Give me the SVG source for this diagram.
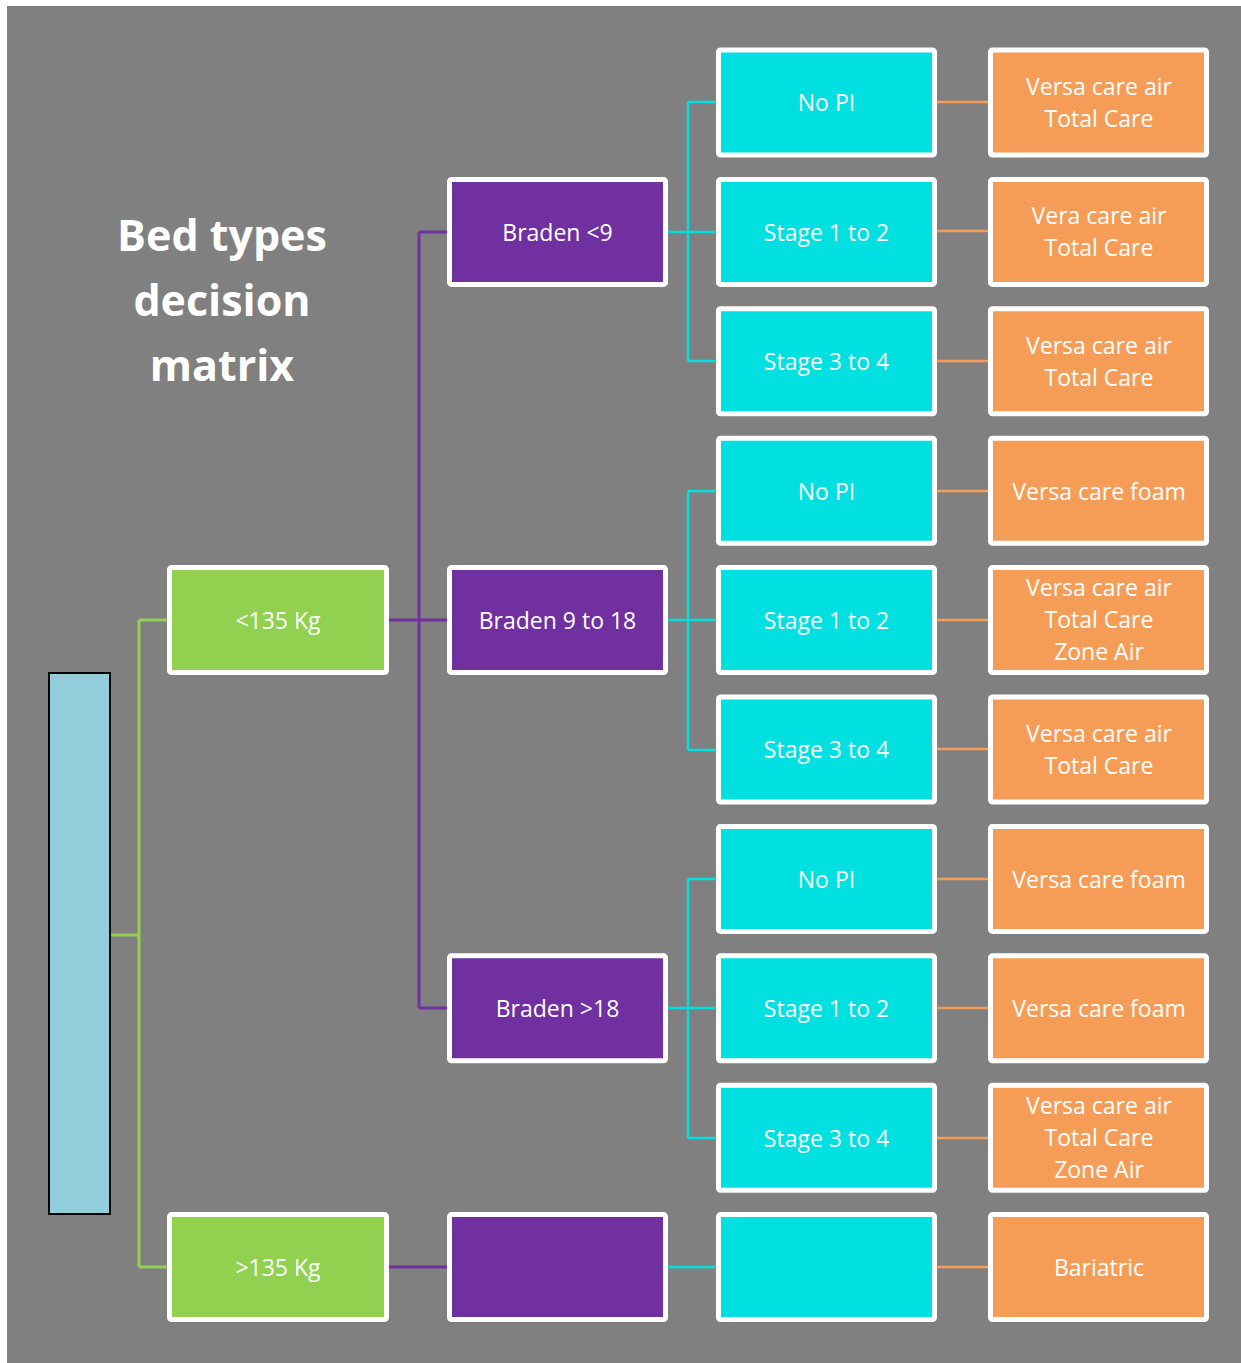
<svg xmlns="http://www.w3.org/2000/svg" width="1241" height="1363" viewBox="0 0 1241 1363">
<style>
.box{stroke:#FFFFFF;stroke-width:5}
.g{fill:#92D050}
.p{fill:#7030A0}
.c{fill:#00E0E0}
.o{fill:#F59D56}
.t{font-family:"Open Sans","Liberation Sans",sans-serif;font-size:23px;fill:#FFFFFF;text-anchor:middle}
.title{font-family:"Open Sans","Liberation Sans",sans-serif;font-size:43px;font-weight:bold;fill:#FFFFFF;text-anchor:middle}
.lg{stroke:#92D050;stroke-width:3;fill:none}
.lp{stroke:#7030A0;stroke-width:3;fill:none}
.lc{stroke:#00E0E0;stroke-width:2.5;fill:none}
.lo{stroke:#F59D56;stroke-width:2.5;fill:none}
</style>
<rect x="0" y="0" width="1241" height="1363" fill="#FFFFFF"/>
<rect x="7" y="6" width="1234" height="1357" fill="#808080"/>
<g id="title">
<text class="title" x="222" y="251">Bed types</text>
<text class="title" x="222" y="316">decision</text>
<text class="title" x="222" y="381">matrix</text>
</g>
<g id="connectors">
<path class="lg" d="M110 935 H139 M139 620 V1267 M139 620 H167 M139 1267 H167"/>
<path class="lp" d="M389 620 H447 M419 232 V1008 M419 232 H447 M419 1008 H447 M389 1267 H447"/>
<path class="lc" d="M668 232 H716 M688 102 V361 M688 102 H716 M688 361 H716"/>
<path class="lc" d="M668 620 H716 M688 491 V750 M688 491 H716 M688 750 H716"/>
<path class="lc" d="M668 1008 H716 M688 879 V1138 M688 879 H716 M688 1138 H716"/>
<path class="lc" d="M668 1267 H716"/>
<path class="lo" d="M937 102 H988 M937 231 H988 M937 361 H988 M937 491 H988 M937 620 H988 M937 749 H988 M937 879 H988 M937 1008 H988 M937 1138 H988 M937 1267 H988"/>
</g>
<g id="root">
<rect x="49" y="673" width="61" height="541" fill="#92CDDC" stroke="#000000" stroke-width="2"/>
</g>
<g id="w1"><rect class="box g" x="169.5" y="567.6" width="217" height="105" rx="2"/><text class="t" x="278" y="629">&lt;135 Kg</text></g>
<g id="w2"><rect class="box g" x="169.5" y="1214.6" width="217" height="105" rx="2"/><text class="t" x="278" y="1276">&gt;135 Kg</text></g>
<g id="b1"><rect class="box p" x="449.5" y="179.4" width="216" height="105" rx="2"/><text class="t" x="557.5" y="241">Braden &lt;9</text></g>
<g id="b2"><rect class="box p" x="449.5" y="567.6" width="216" height="105" rx="2"/><text class="t" x="557.5" y="629">Braden 9 to 18</text></g>
<g id="b3"><rect class="box p" x="449.5" y="955.8" width="216" height="105" rx="2"/><text class="t" x="557.5" y="1017">Braden &gt;18</text></g>
<g id="b4"><rect class="box p" x="449.5" y="1214.6" width="216" height="105" rx="2"/></g>
<g id="s1"><rect class="box c" x="718.5" y="50" width="216" height="105" rx="2"/><text class="t" x="826.5" y="111">No PI</text></g>
<g id="s2"><rect class="box c" x="718.5" y="179.4" width="216" height="105" rx="2"/><text class="t" x="826.5" y="241">Stage 1 to 2</text></g>
<g id="s3"><rect class="box c" x="718.5" y="308.8" width="216" height="105" rx="2"/><text class="t" x="826.5" y="370">Stage 3 to 4</text></g>
<g id="s4"><rect class="box c" x="718.5" y="438.2" width="216" height="105" rx="2"/><text class="t" x="826.5" y="500">No PI</text></g>
<g id="s5"><rect class="box c" x="718.5" y="567.6" width="216" height="105" rx="2"/><text class="t" x="826.5" y="629">Stage 1 to 2</text></g>
<g id="s6"><rect class="box c" x="718.5" y="697" width="216" height="105" rx="2"/><text class="t" x="826.5" y="758">Stage 3 to 4</text></g>
<g id="s7"><rect class="box c" x="718.5" y="826.4" width="216" height="105" rx="2"/><text class="t" x="826.5" y="888">No PI</text></g>
<g id="s8"><rect class="box c" x="718.5" y="955.8" width="216" height="105" rx="2"/><text class="t" x="826.5" y="1017">Stage 1 to 2</text></g>
<g id="s9"><rect class="box c" x="718.5" y="1085.2" width="216" height="105" rx="2"/><text class="t" x="826.5" y="1147">Stage 3 to 4</text></g>
<g id="s10"><rect class="box c" x="718.5" y="1214.6" width="216" height="105" rx="2"/></g>
<g id="r1"><rect class="box o" x="990.5" y="50" width="216" height="105" rx="2"/><text class="t" x="1099" y="95">Versa care air</text><text class="t" x="1099" y="127">Total Care</text></g>
<g id="r2"><rect class="box o" x="990.5" y="179.4" width="216" height="105" rx="2"/><text class="t" x="1099" y="224">Vera care air</text><text class="t" x="1099" y="256">Total Care</text></g>
<g id="r3"><rect class="box o" x="990.5" y="308.8" width="216" height="105" rx="2"/><text class="t" x="1099" y="354">Versa care air</text><text class="t" x="1099" y="386">Total Care</text></g>
<g id="r4"><rect class="box o" x="990.5" y="438.2" width="216" height="105" rx="2"/><text class="t" x="1099" y="500">Versa care foam</text></g>
<g id="r5"><rect class="box o" x="990.5" y="567.6" width="216" height="105" rx="2"/><text class="t" x="1099" y="596">Versa care air</text><text class="t" x="1099" y="628">Total Care</text><text class="t" x="1099" y="660">Zone Air</text></g>
<g id="r6"><rect class="box o" x="990.5" y="697" width="216" height="105" rx="2"/><text class="t" x="1099" y="742">Versa care air</text><text class="t" x="1099" y="774">Total Care</text></g>
<g id="r7"><rect class="box o" x="990.5" y="826.4" width="216" height="105" rx="2"/><text class="t" x="1099" y="888">Versa care foam</text></g>
<g id="r8"><rect class="box o" x="990.5" y="955.8" width="216" height="105" rx="2"/><text class="t" x="1099" y="1017">Versa care foam</text></g>
<g id="r9"><rect class="box o" x="990.5" y="1085.2" width="216" height="105" rx="2"/><text class="t" x="1099" y="1114">Versa care air</text><text class="t" x="1099" y="1146">Total Care</text><text class="t" x="1099" y="1178">Zone Air</text></g>
<g id="r10"><rect class="box o" x="990.5" y="1214.6" width="216" height="105" rx="2"/><text class="t" x="1099" y="1276">Bariatric</text></g>
</svg>
